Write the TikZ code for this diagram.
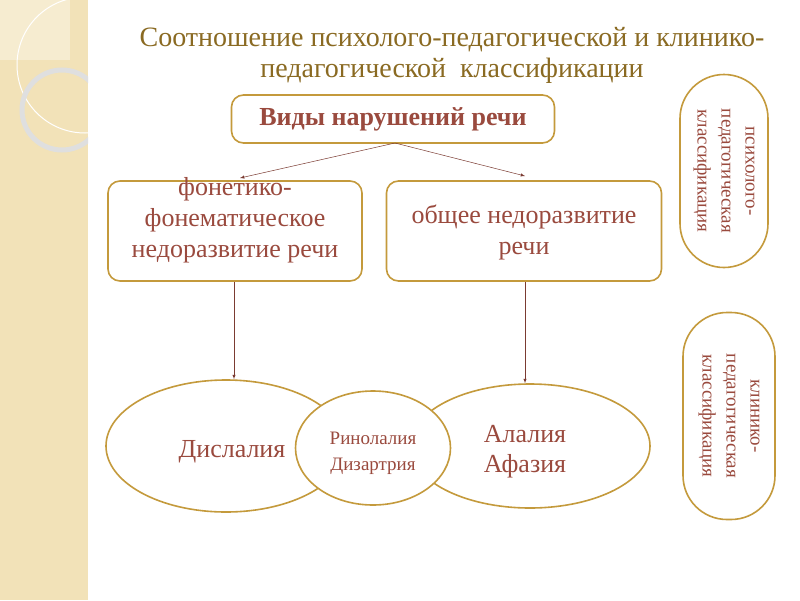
\documentclass[tikz,border=0pt]{standalone}
\usepackage{fontspec}
\setmainfont{Liberation Serif}
\usetikzlibrary{shapes.geometric}
\definecolor{gold}{HTML}{C49A3C}
\definecolor{txt}{HTML}{9A4A3E}
\definecolor{ttl}{HTML}{8A6A22}
\definecolor{band}{HTML}{F2E2B8}
\tikzset{
 box/.style={draw=gold,line width=1.6pt,rounded corners=12pt,fill=white},
 btxt/.style={text=txt,align=center,inner sep=0pt,font=\fontsize{26}{31}\selectfont},
 ell/.style={draw=gold,line width=1.6pt,ellipse,fill=white},
 etxt/.style={text=txt,align=center,inner sep=0pt},
 pill/.style={draw=gold,line width=1.6pt,rounded corners=44pt,fill=white,text=txt,align=center,inner sep=0pt,font=\fontsize{19}{24}\selectfont},
 arr/.style={draw=txt!80!black,line width=0.5pt,-latex}
}
\begin{document}
\begin{tikzpicture}[x=1pt,y=-1pt]
\useasboundingbox (0,0) rectangle (800,600);
\fill[white] (0,0) rectangle (800,600);
\fill[band] (0,0) rectangle (88,600);
\begin{scope}
\clip (0,0) rectangle (88,600);
\fill[white,opacity=0.35] (0,0) rectangle (70,60);
\draw[white,line width=1pt] (85,65) circle (68);
\draw[gray!25,line width=5pt] (62,110) circle (40);
\end{scope}
\node[text=ttl,align=center,font=\fontsize{28}{31}\selectfont] (title) at (452,55) {Соотношение психолого-педагогической и клинико-\\педагогической\ \ классификации};
\node[box,minimum width=323pt,minimum height=48pt,text=txt,font=\fontsize{26}{30}\selectfont\bfseries] (top) at (393,119) {Виды нарушений речи};
\node[box,minimum width=254pt,minimum height=100pt] (b1) at (235,231) {};
\node[btxt] (b1t) at (235,220) {фонетико-\\фонематическое\\недоразвитие речи};
\node[box,minimum width=275pt,minimum height=100pt] (b2) at (524,231) {};
\node[btxt] (b2t) at (524,232) {общее недоразвитие\\речи};
\coordinate (t) at (395,143);
\draw[arr] (t) -- (240,178);
\draw[arr] (t) -- (525,176);
\node[ell,minimum width=240pt,minimum height=132pt] (e1) at (226,446) {};
\node[ell,minimum width=240pt,minimum height=124pt] (e2) at (530,446) {};
\node[ell,minimum width=155pt,minimum height=114pt] (e3) at (373,448) {};
\node[etxt,font=\fontsize{26}{30}\selectfont] (e1t) at (232,452) {Дислалия};
\node[etxt,font=\fontsize{26}{30}\selectfont] (e2t) at (525,452) {Алалия\\Афазия};
\node[etxt,font=\fontsize{19}{26}\selectfont] (e3t) at (373,453) {Ринолалия\\Дизартрия};
\draw[arr] (b1.south -| 234,0) -- (e1.north -| 234,0);
\draw[arr] (b2.south -| 525,0) -- (e2.north -| 525,0);
\node[pill,minimum width=193pt,minimum height=88pt,rotate=-90] (p1) at (724,171) {психолого-\\педагогическая\\классификация};
\node[pill,minimum width=207pt,minimum height=92pt,rotate=-90] (p2) at (729,416) {клинико-\\педагогическая\\классификация};
\end{tikzpicture}
\end{document}
